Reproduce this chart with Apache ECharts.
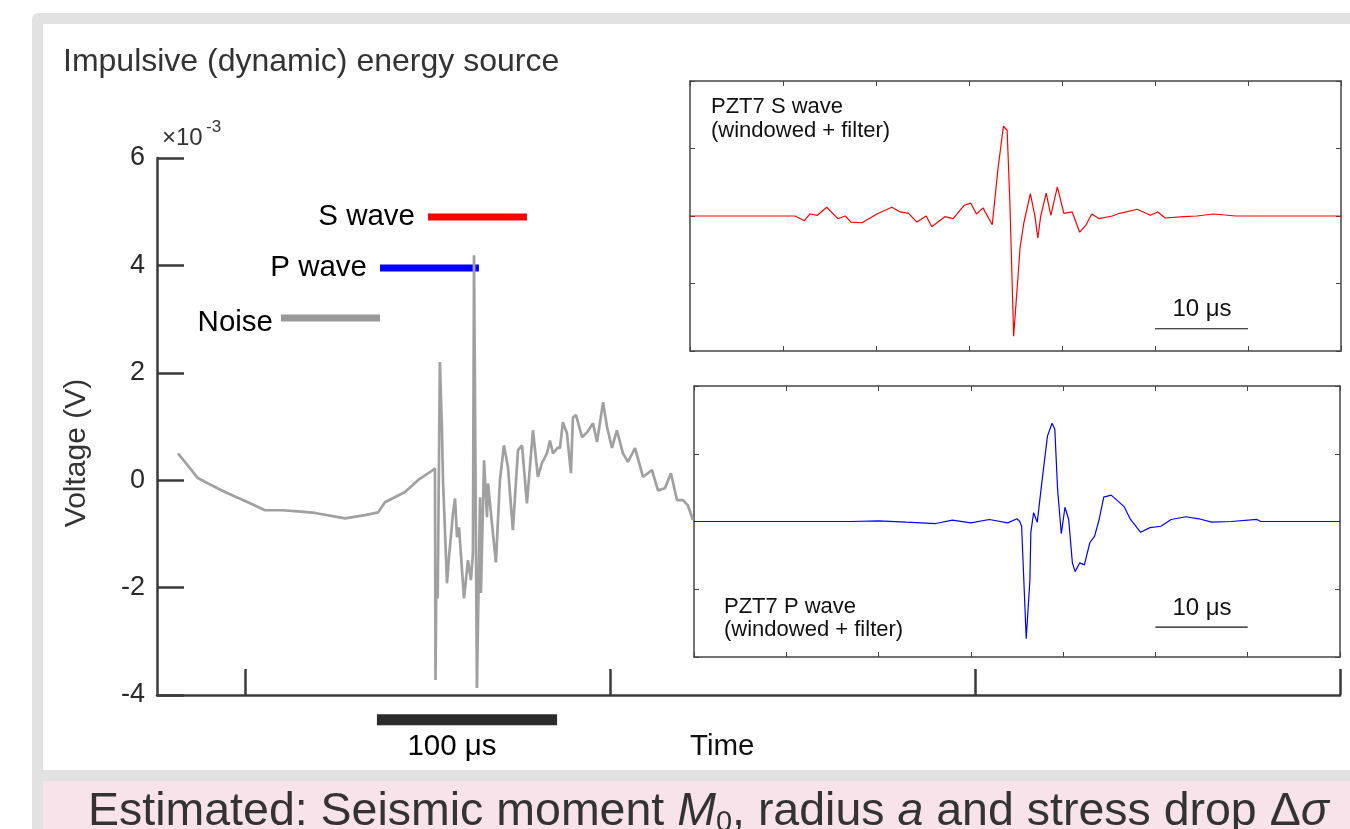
<!DOCTYPE html>
<html lang="en">
<head>
    <meta charset="UTF-8">
    <title>Impulsive energy source</title>
    <script src="https://cdn.jsdelivr.net/npm/echarts@6/dist/echarts.min.js"></script>
    <style>
        html, body { margin: 0; padding: 0; background: #fff; }
        #chart { width: 1350px; height: 829px; }
    </style>
</head>
<body>
<div id="chart"></div>
<script>
    // main trace: [time (us), voltage (x1e-3 V)]
    var mainTrace = [
        [-36.7, 0.50], [-31.0, 0.26], [-25.8, 0.04], [-18.0, -0.10], [-11.0, -0.22], [1.6, -0.41],
        [11.0, -0.56], [20.3, -0.56], [29.0, -0.58], [38.4, -0.61], [54.8, -0.71], [65.8, -0.65],
        [72.9, -0.60], [76.7, -0.41], [87.7, -0.22], [94.8, 0], [103.0, 0.19], [104.1, 0.22],
        [104.4, -3.72], [104.9, -1.68], [105.6, -2.20], [106.8, 2.20], [107.9, 0.99], [108.5, 0],
        [110.7, -1.92], [111.8, -1.43], [114.0, -0.61], [115.1, -0.34], [116.2, -1.06], [117.3, -0.88],
        [120.0, -2.20], [122.2, -1.49], [123.8, -1.86], [124.9, -1.36], [125.5, 4.19], [127.1, -3.87],
        [128.8, -0.32], [129.3, -2.10], [131.0, 0.37], [132.6, -0.69], [133.2, -0.06], [135.3, -0.80],
        [137.5, -1.53], [139.7, 0], [141.9, 0.65], [144.1, 0.24], [146.8, -0.93], [149.6, 0.56],
        [151.8, 0.65], [154.5, -0.43], [157.8, 0.93], [160.5, 0.06], [162.7, 0.32], [165.5, 0.50],
        [167.1, 0.74], [168.8, 0.50], [171.5, 0.61], [172.6, 0.60], [174.2, 1.08], [176.4, 0.88],
        [178.6, 0.13], [179.7, 1.17], [181.4, 1.21], [184.7, 0.80], [187.4, 0.89], [190.7, 1.06],
        [192.9, 0.71], [196.2, 1.45], [198.4, 0.99], [201.1, 0.60], [203.8, 0.93], [207.1, 0.50],
        [209.9, 0.34], [213.7, 0.60], [218.1, 0.06], [223.0, 0.19], [226.3, -0.19], [230.1, -0.15],
        [233.4, 0.13], [236.7, -0.37], [240.0, -0.37], [242.7, -0.47], [245.5, -0.74]
    ];

    // analysis windows drawn above the trace
    var noiseWindow = [[19.7, 3.02], [74.0, 3.02]];
    var pWindow = [[74.0, 3.95], [128.2, 3.95]];
    var sWindow = [[100.3, 4.90], [154.5, 4.90]];
    var mainScaleBar = [[72.3, -4.46], [171.0, -4.46]];
    var mainTicks = [0, 200, 400, 600];
    var voltTicks = [-4, -2, 0, 2, 4, 6];

    // inset waveforms: [time (us), normalised amplitude]
    var sWave = [
        [0, 0], [11.3, 0], [12.3, -0.07], [12.9, 0.03], [13.7, 0.01], [14.7, 0.13], [15.9, -0.04],
        [16.7, 0], [17.3, -0.09], [18.5, -0.10], [20.1, 0.03], [21.7, 0.13], [22.6, 0.06], [23.5, 0.04],
        [24.4, -0.09], [25.4, 0], [26.0, -0.16], [27.4, -0.01], [28.3, -0.04], [29.5, 0.16], [30.2, 0.19],
        [30.8, 0.03], [31.5, 0.12], [32.5, -0.13], [33.1, 0.68], [33.7, 1.33], [34.1, 1.27], [34.4, 0.19],
        [34.8, -1.78], [35.5, -0.46], [35.9, -0.10], [36.6, 0.33], [37.1, -0.01], [37.4, -0.33],
        [37.7, -0.01], [38.3, 0.34], [38.8, 0.01], [39.5, 0.43], [40.2, 0.04], [41.1, 0.06], [41.9, -0.24],
        [42.6, -0.13], [43.2, 0.03], [44.0, -0.04], [45.4, 0], [46.2, 0.04], [48.1, 0.10], [49.5, 0.01],
        [50.3, 0.06], [51.1, -0.03], [53.1, -0.01], [54.5, 0], [56.3, 0.03], [58.7, 0], [70, 0]
    ];
    var pWave = [
        [0, 0], [17.0, 0], [20.0, 0.01], [23.0, -0.01], [26.2, -0.03], [28.0, 0.02], [30.0, -0.02],
        [32.0, 0.03], [34.0, -0.02], [35.0, 0.04], [35.3, 0], [35.5, -0.07], [36.0, -1.73], [36.4, -0.86],
        [36.5, -0.16], [36.8, 0.13], [37.2, -0.01], [37.6, 0.47], [38.3, 1.26], [38.8, 1.45], [39.1, 1.36],
        [39.4, 0.47], [39.8, -0.18], [40.2, 0.21], [40.6, 0.03], [41.0, -0.61], [41.3, -0.74],
        [41.8, -0.61], [42.3, -0.64], [42.9, -0.31], [43.4, -0.22], [43.9, 0.03], [44.4, 0.36],
        [45.2, 0.39], [45.7, 0.33], [46.6, 0.22], [47.3, 0.03], [48.4, -0.16], [49.4, -0.09],
        [50.6, -0.07], [51.7, 0.03], [53.3, 0.07], [54.7, 0.04], [56.1, -0.01], [58.2, 0], [61.0, 0.03],
        [61.4, 0], [70, 0]
    ];
    var sScaleBar = [[50, -1.67], [60, -1.67]];
    var pScaleBar = [[50, -1.56], [60, -1.56]];

    var font = '"Liberation Sans", Arial, Helvetica, sans-serif';
    var axisDark = '#3a3a3a';

    function insetX(grid, pos) {
        return {
            type: 'value', gridIndex: grid, position: pos, min: 0, max: 70, interval: 10,
            axisLine: {onZero: false, lineStyle: {color: '#444', width: 1.5}},
            axisTick: {inside: true, length: 5, lineStyle: {color: '#444'}},
            axisLabel: {show: false}, splitLine: {show: false}
        };
    }
    function insetY(grid, pos) {
        return {
            type: 'value', gridIndex: grid, position: pos, min: -2, max: 2, interval: 1,
            axisLine: {onZero: false, lineStyle: {color: '#444', width: 1.5}},
            axisTick: {inside: true, length: 5, lineStyle: {color: '#444'}},
            axisLabel: {show: false}, splitLine: {show: false}
        };
    }
    function txt(x, y, text, size, opts) {
        var s = {x: x, y: y, text: text, fontSize: size, fontFamily: font, fill: '#111', verticalAlign: 'middle', align: 'left'};
        for (var k in opts) s[k] = opts[k];
        return {type: 'text', z: 20, style: s};
    }
    function bar(data, color, width, xi, yi, clip) {
        return {
            type: 'line', data: data, xAxisIndex: xi, yAxisIndex: yi, symbol: 'none', clip: clip,
            lineStyle: {color: color, width: width, cap: 'butt'}, silent: true
        };
    }

    var chart = echarts.init(document.getElementById('chart'));
    var option = {
        animation: false,
        backgroundColor: '#fff',
        grid: [
            {left: 157, top: 158, width: 1183, height: 537},
            {left: 690, top: 81, width: 651, height: 270, show: true, backgroundColor: '#fff', borderWidth: 0},
            {left: 694, top: 386, width: 646, height: 271, show: true, backgroundColor: '#fff', borderWidth: 0}
        ],
        xAxis: [
            {
                type: 'value', gridIndex: 0, min: -48.2, max: 600,
                axisLine: {onZero: false, lineStyle: {color: axisDark, width: 2.5}},
                axisTick: {customValues: mainTicks, inside: true, length: 26, lineStyle: {color: axisDark, width: 2.5}},
                axisLabel: {show: false}, splitLine: {show: false}
            },
            insetX(1, 'bottom'), insetX(1, 'top'), insetX(2, 'bottom'), insetX(2, 'top')
        ],
        yAxis: [
            {
                type: 'value', gridIndex: 0, min: -4, max: 6, interval: 2,
                axisLine: {onZero: false, lineStyle: {color: axisDark, width: 2.5}},
                axisTick: {inside: true, length: 27, lineStyle: {color: axisDark, width: 2.5}},
                axisLabel: {
                    customValues: voltTicks, fontSize: 27, color: '#2a2a2a', margin: 12, fontFamily: font
                },
                splitLine: {show: false}
            },
            insetY(1, 'left'), insetY(1, 'right'), insetY(2, 'left'), insetY(2, 'right')
        ],
        graphic: [
            {type: 'rect', z: -10, shape: {x: 32, y: 13, width: 1340, height: 830, r: 6}, style: {fill: '#e2e2e2'}},
            {type: 'rect', z: -9, shape: {x: 43, y: 24, width: 1320, height: 746}, style: {fill: '#fff'}},
            {type: 'rect', z: -9, shape: {x: 43, y: 781, width: 1320, height: 60}, style: {fill: '#f9e3ea'}},
            txt(63, 62, 'Impulsive (dynamic) energy source', 32, {fill: '#333'}),
            txt(162, 138, '\u00d710', 24, {fill: '#333'}),
            txt(206, 127, '-3', 17, {fill: '#333'}),
            {
                type: 'text', z: 20, x: 77, y: 453, rotation: Math.PI / 2,
                style: {text: 'Voltage (V)', fontSize: 30, fontFamily: font, fill: '#333', align: 'center', verticalAlign: 'middle'}
            },
            txt(415, 217, 'S wave', 29.5, {align: 'right', fill: '#000'}),
            txt(367, 268, 'P wave', 29.5, {align: 'right', fill: '#000'}),
            txt(273, 323, 'Noise', 29.5, {align: 'right', fill: '#000'}),
            txt(452, 747, '100 \u03bcs', 29.5, {align: 'center', fill: '#000'}),
            txt(690, 747, 'Time', 29.5, {fill: '#111'}),
            txt(711, 107, 'PZT7 S wave', 22),
            txt(711, 131, '(windowed + filter)', 22),
            txt(1202, 309, '10 \u03bcs', 24, {align: 'center'}),
            txt(724, 607, 'PZT7 P wave', 22),
            txt(724, 630, '(windowed + filter)', 22),
            txt(1202, 608, '10 \u03bcs', 24, {align: 'center'}),
            {
                type: 'text', z: 20,
                style: {
                    x: 88, y: 812, verticalAlign: 'middle', fontSize: 46.5, fontFamily: font, fill: '#333',
                    text: 'Estimated: Seismic moment {i|M}{sub|0}, radius {i|a} and stress drop \u0394{i|\u03c3}',
                    rich: {
                        i: {fontStyle: 'italic', fontSize: 46.5, fontFamily: font, fill: '#333'},
                        sub: {fontSize: 29, fontFamily: font, fill: '#333', padding: [22, 0, 0, 0]}
                    }
                }
            }
        ],
        series: [
            bar(noiseWindow, '#999999', 7, 0, 0, true),
            bar(pWindow, '#0000ff', 7, 0, 0, true),
            bar(sWindow, '#ff0000', 7, 0, 0, true),
            {
                type: 'line', data: mainTrace, xAxisIndex: 0, yAxisIndex: 0, symbol: 'none',
                lineStyle: {color: '#a0a0a0', width: 2.7}, silent: true
            },
            bar(mainScaleBar, '#2b2b2b', 11, 0, 0, false),
            {
                type: 'line', data: sWave, xAxisIndex: 1, yAxisIndex: 1, symbol: 'none',
                lineStyle: {color: '#ff0000', width: 1.2}, silent: true
            },
            bar(sScaleBar, '#111', 1.2, 1, 1, true),
            {
                type: 'line', data: pWave, xAxisIndex: 3, yAxisIndex: 3, symbol: 'none',
                lineStyle: {color: '#0000ff', width: 1.2}, silent: true
            },
            bar(pScaleBar, '#111', 1.2, 3, 3, true)
        ]
    };
    chart.setOption(option);
</script>
</body>
</html>
